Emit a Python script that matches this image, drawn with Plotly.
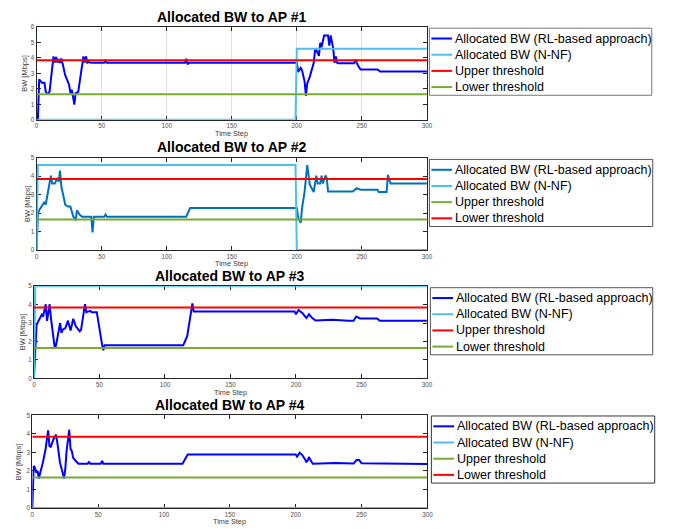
import plotly.graph_objects as go

# ---------------- data ----------------
time_ticks = [0, 50, 100, 150, 200, 250, 300]
bw_ticks_ap1 = [0, 1, 2, 3, 4, 5, 6]
bw_ticks = [0, 1, 2, 3, 4, 5]

upper_threshold = 3.85
lower_threshold = 1.65
threshold_t = [0, 300]

titles = ["Allocated BW to AP #1", "Allocated BW to AP #2",
          "Allocated BW to AP #3", "Allocated BW to AP #4"]
x_title = "Time Step"
y_title = "BW [Mbps]"
name_rl = "Allocated BW (RL-based approach)"
name_nnf = "Allocated BW (N-NF)"
name_upper = "Upper threshold"
name_lower = "Lower threshold"

ap1_rl_t = [0, 1, 2, 3, 4, 6, 7, 8, 9, 10, 13, 14, 15, 16, 17, 18, 19, 20, 21, 22,
            23, 25, 26, 27, 28, 29, 30, 32, 36, 37, 38, 39, 40, 41, 43, 52, 53, 54, 114, 115,
            116, 117, 199, 200, 201, 203, 204, 206, 207, 208, 210, 213, 214, 215, 217, 218, 219, 221, 224, 225,
            226, 228, 229, 230, 231, 232, 244, 245, 247, 249, 262, 264, 300]
ap1_rl_bw = [0, 0, 2.62, 2.47, 2.4, 2.4, 1.83, 1.68, 1.7, 1.83, 4.1, 3.7, 4.06, 3.7, 3.92, 3.68, 3.96, 3.64, 3.2, 2.88,
             2.68, 2.25, 1.72, 1.94, 1.5, 0.98, 1.72, 1.8, 4.1, 3.7, 4.1, 3.7, 3.75, 3.7, 3.68, 3.68, 3.82, 3.68, 3.68, 3.95,
             3.58, 3.68, 3.68, 3.7, 3.1, 3.35, 3.2, 2.47, 1.55, 2.35, 2.79, 3.68, 4.49, 4.5, 4.13, 4.98, 4.7, 5.45, 5.45, 4.8,
             5.45, 4.6, 3.68, 4.1, 3.68, 3.65, 3.65, 3.9, 3.5, 3.25, 3.25, 3.12, 3.12]
ap1_nnf_t = [0, 199, 200, 300]
ap1_nnf_bw = [0, 0, 4.6, 4.6]

ap2_rl_t = [0, 1, 2, 5, 6, 7, 9, 11, 12, 14, 16, 17, 18, 19, 21, 22, 24, 26, 27, 28,
            30, 31, 33, 35, 42, 43, 44, 52, 53, 54, 115, 118, 200, 201, 203, 204, 206, 208, 210, 213,
            215, 216, 218, 219, 220, 222, 223, 224, 243, 246, 249, 262, 263, 269, 270, 272, 300]
ap2_rl_bw = [0, 1.92, 2.15, 2.55, 2.6, 2.45, 3.25, 4.02, 3.6, 3.6, 3.9, 3.7, 4.3, 3.45, 2.8, 2.45, 2.35, 2.35, 2.1, 1.85,
             1.6, 2.15, 1.92, 1.8, 1.8, 0.95, 1.8, 1.8, 1.92, 1.8, 1.8, 2.27, 2.27, 1.77, 1.47, 2.25, 3.17, 4.6, 3.53, 3.14,
             4.03, 3.6, 3.6, 4.03, 3.6, 4.03, 3.9, 3.17, 3.17, 3.35, 3.26, 3.26, 3.14, 3.14, 4.07, 3.6, 3.6]
ap2_nnf_t = [0, 1, 199, 200, 300]
ap2_nnf_bw = [0, 4.6, 4.6, 0, 0]

ap3_rl_t = [0, 2, 3, 5, 6, 7, 9, 10, 12, 13, 15, 16, 17, 19, 20, 21, 22, 24, 26, 28,
            30, 32, 35, 36, 38, 39, 40, 43, 44, 48, 52, 53, 54, 114, 117, 120, 121, 122, 199, 200,
            202, 205, 208, 210, 212, 215, 228, 240, 244, 246, 249, 262, 264, 300]
ap3_rl_bw = [0, 2.87, 3.05, 3.27, 3.45, 3.35, 4.02, 3.12, 4.02, 3.27, 1.93, 1.6, 1.84, 2.55, 3.0, 2.46, 2.64, 2.73, 3.13, 2.59,
             3.23, 2.82, 2.55, 2.64, 3.45, 4.03, 3.59, 3.66, 3.59, 3.59, 1.84, 1.52, 1.8, 1.8, 2.29, 3.54, 4.07, 3.63, 3.63, 3.48,
             3.71, 3.54, 3.27, 3.48, 3.3, 3.14, 3.18, 3.12, 3.12, 3.35, 3.25, 3.25, 3.12, 3.12]
ap3_nnf_t = [0, 1, 300]
ap3_nnf_bw = [0, 5, 5]

ap4_rl_t = [0, 1, 2, 3, 4, 5, 6, 8, 10, 12, 13, 14, 16, 18, 19, 21, 23, 24, 25, 26,
            28, 29, 30, 31, 33, 35, 42, 43, 44, 52, 53, 54, 114, 118, 200, 201, 203, 205, 207, 208,
            209, 210, 212, 213, 230, 244, 246, 248, 250, 262, 264, 300]
ap4_rl_bw = [0, 2.27, 2.18, 1.91, 2.0, 1.59, 1.91, 2.45, 3.16, 4.2, 3.34, 3.3, 3.7, 3.96, 3.52, 2.45, 1.91, 1.59, 2.09, 3.07,
             4.23, 3.2, 3.07, 2.71, 2.54, 2.39, 2.39, 2.48, 2.39, 2.39, 2.54, 2.39, 2.39, 2.89, 2.89, 2.77, 2.98, 2.86, 2.63, 2.5,
             2.55, 2.75, 2.5, 2.39, 2.43, 2.4, 2.58, 2.6, 2.42, 2.42, 2.38, 2.38]
ap4_nnf_t = [0, 300]
ap4_nnf_bw = [0, 0]

# ---------------- style ----------------
W, H = 678, 529
BLUE = "#0000ff"
MBLUE = "#0072bd"
CYAN = "#4dbeee"
RED = "#ff0000"
GREEN = "#77ac30"
FONT = "Liberation Sans, Arial, sans-serif"


def px(x):
    return x / W


def py(y):
    return 1 - y / H


panels = [
    dict(title=titles[0], rl=(ap1_rl_t, ap1_rl_bw), nnf=(ap1_nnf_t, ap1_nnf_bw), rl_color=BLUE,
         ymax=6, yt=bw_ticks_ap1, grid=True,
         thr=[(name_upper, upper_threshold, RED), (name_lower, lower_threshold, GREEN)],
         box=(35, 430, 23.3, 117.3), leg=(432.5, 657.5, 24.5, 92.5), ydx=12.3, legc="#777777"),
    dict(title=titles[1], rl=(ap2_rl_t, ap2_rl_bw), nnf=(ap2_nnf_t, ap2_nnf_bw), rl_color=MBLUE,
         ymax=5, yt=bw_ticks, grid=False,
         thr=[(name_upper, lower_threshold, GREEN), (name_lower, upper_threshold, RED)],
         box=(35, 430, 155.7, 249.3), leg=(432.5, 658.5, 157.5, 225.5), ydx=8.5, legc="#555555"),
    dict(title=titles[2], rl=(ap3_rl_t, ap3_rl_bw), nnf=(ap3_nnf_t, ap3_nnf_bw), rl_color=BLUE,
         ymax=5, yt=bw_ticks, grid=False,
         thr=[(name_upper, upper_threshold, RED), (name_lower, lower_threshold, GREEN)],
         box=(32.3, 430, 286, 379.3), leg=(433.5, 658.5, 287.5, 355.5), ydx=12, legc="#555555"),
    dict(title=titles[3], rl=(ap4_rl_t, ap4_rl_bw), nnf=(ap4_nnf_t, ap4_nnf_bw), rl_color=BLUE,
         ymax=5, yt=bw_ticks, grid=False,
         thr=[(name_upper, lower_threshold, GREEN), (name_lower, upper_threshold, RED)],
         box=(30.7, 430.5, 417, 510.7), leg=(434.5, 660.5, 417.5, 485.5), ydx=14, legc="#333333"),
]

fig = go.Figure()
layout = dict(width=W, height=H, margin=dict(l=0, r=0, t=0, b=0),
              paper_bgcolor="white", plot_bgcolor="white", showlegend=False,
              font=dict(family=FONT))
annotations = []
shapes = []

for i, p in enumerate(panels):
    k = "" if i == 0 else str(i + 1)
    xa, ya = "x" + k, "y" + k
    L, R, T, B = p["box"]
    traces = [(name_rl, p["rl"][0], p["rl"][1], p["rl_color"]),
              (name_nnf, p["nnf"][0], p["nnf"][1], CYAN)]
    for nm, val, col in p["thr"]:
        traces.append((nm, threshold_t, [val, val], col))
    for nm, xs, ys, col in traces:
        fig.add_trace(go.Scatter(x=xs, y=ys, mode="lines", name=nm, xaxis=xa, yaxis=ya,
                                 line=dict(color=col, width=2), hoverinfo="skip"))

    common = dict(ticks="inside", ticklen=4, tickwidth=1, tickcolor="#262626",
                  showline=True, linecolor="#262626", linewidth=1, mirror="ticks",
                  zeroline=False, layer="below traces",
                  tickfont=dict(size=6.3, color="#505050", family=FONT))
    layout["xaxis" + k] = dict(domain=[px(L), px(R)], anchor=ya, range=[0, 300],
                               tickmode="array", tickvals=time_ticks,
                               showgrid=p["grid"], gridcolor="#e0e0e0", gridwidth=1, **common)
    layout["yaxis" + k] = dict(domain=[py(B), py(T)], anchor=xa, range=[0, p["ymax"]],
                               tickmode="array", tickvals=p["yt"], showgrid=False, **common)

    # title
    annotations.append(dict(text=p["title"], x=px((L + R) / 2), y=py(T - 10.5), xref="paper", yref="paper",
                            xanchor="center", yanchor="middle", showarrow=False,
                            font=dict(size=14, color="black", family=FONT, weight="bold")))
    # axis titles
    annotations.append(dict(text=x_title, x=px((L + R) / 2), y=py(B + 14), xref="paper", yref="paper",
                            xanchor="center", yanchor="middle", showarrow=False,
                            font=dict(size=7.3, color="#404040", family=FONT)))
    annotations.append(dict(text=y_title, x=px(L - p["ydx"]), y=py((T + B) / 2), xref="paper", yref="paper",
                            xanchor="center", yanchor="middle", showarrow=False, textangle=-90,
                            font=dict(size=7.5, color="#404040", family=FONT)))

    # legend box
    lx0, lx1, ly0, ly1 = p["leg"]
    shapes.append(dict(type="rect", xref="paper", yref="paper", x0=px(lx0), x1=px(lx1), y0=py(ly1), y1=py(ly0),
                       line=dict(color=p["legc"], width=1), fillcolor="white", layer="above"))
    for j, (nm, xs, ys, col) in enumerate(traces):
        yc = ly0 + 10.5 + 16.4 * j
        shapes.append(dict(type="line", xref="paper", yref="paper", x0=px(lx0 + 2), x1=px(lx0 + 23),
                           y0=py(yc), y1=py(yc), line=dict(color=col, width=2), layer="above"))
        annotations.append(dict(text=nm, x=px(lx0 + 23.5), y=py(yc), xref="paper", yref="paper",
                                xanchor="left", yanchor="middle", showarrow=False,
                                font=dict(size=12.5, color="black", family=FONT)))

layout["annotations"] = annotations
layout["shapes"] = shapes
fig.update_layout(**layout)
fig.write_html("out.html", config={"displayModeBar": False, "staticPlot": True},
               post_script="document.body.style.margin='0';document.body.style.overflow='hidden';")
